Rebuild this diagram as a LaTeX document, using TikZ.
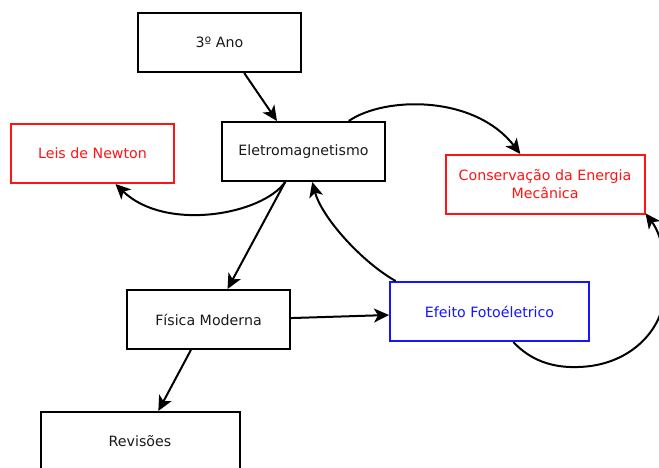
\documentclass[tikz,border=0pt]{standalone}
\usepackage{fontspec}
\setmainfont{DejaVu Sans}
\usetikzlibrary{arrows.meta}
\definecolor{boxred}{RGB}{255,20,20}
\definecolor{boxblue}{RGB}{20,20,255}
\tikzset{
  topic/.style={draw=black, line width=2pt, rectangle, inner sep=0pt,
    minimum width=163pt, minimum height=59pt, align=center,
    font=\fontsize{14.2}{18}\selectfont, text=black!90},
  wide/.style={minimum width=199pt},
  redtopic/.style={topic, draw=boxred, text=boxred},
  bluetopic/.style={topic, draw=boxblue, text=boxblue},
  link/.style={line width=2pt, -{Stealth[length=15pt,width=14pt,inset=4pt]}}
}
\begin{document}
\begin{tikzpicture}[x=1pt,y=-1pt]
\useasboundingbox (0,0) rectangle (659,468);
% concept boxes
\node[topic] (ano) at (219.5,42.5) {3º Ano};
\node[topic] (em) at (303.5,151.5) {Eletromagnetismo};
\node[redtopic] (newton) at (92.5,153.5) {Leis de Newton};
\node[redtopic, wide] (cons) at (545,184.5) {Conservação da Energia\\Mecânica};
\node[topic] (fm) at (208.5,319.5) {Física Moderna};
\node[bluetopic, wide] (ef) at (489.5,311.5) {Efeito Fotoéletrico};
\node[topic, wide] (rev) at (140,441.5) {Revisões};
% connections
\draw[link] (ano.-51) -- (em.131);
\draw[link] (em.34) .. controls (385,96) and (475,95) .. (cons.129);
\draw[link] (em.239) .. controls (262,215) and (165,232) .. (newton.307);
\draw[link] (em.239) -- (fm.58);
\draw[link] (ef.162) .. controls (362,262) and (322,218) .. (em.286);
\draw[link] (fm.1) -- (ef.182);
\draw[link] (fm.240) -- (rev.59.5);
\draw[link] (ef.-52) .. controls (530,360) and (552,368) .. (578,367)
  .. controls (628,366) and (663,332) .. (665,292)
  .. controls (667,258) and (661,234) .. (cons.344);
\end{tikzpicture}
\end{document}
